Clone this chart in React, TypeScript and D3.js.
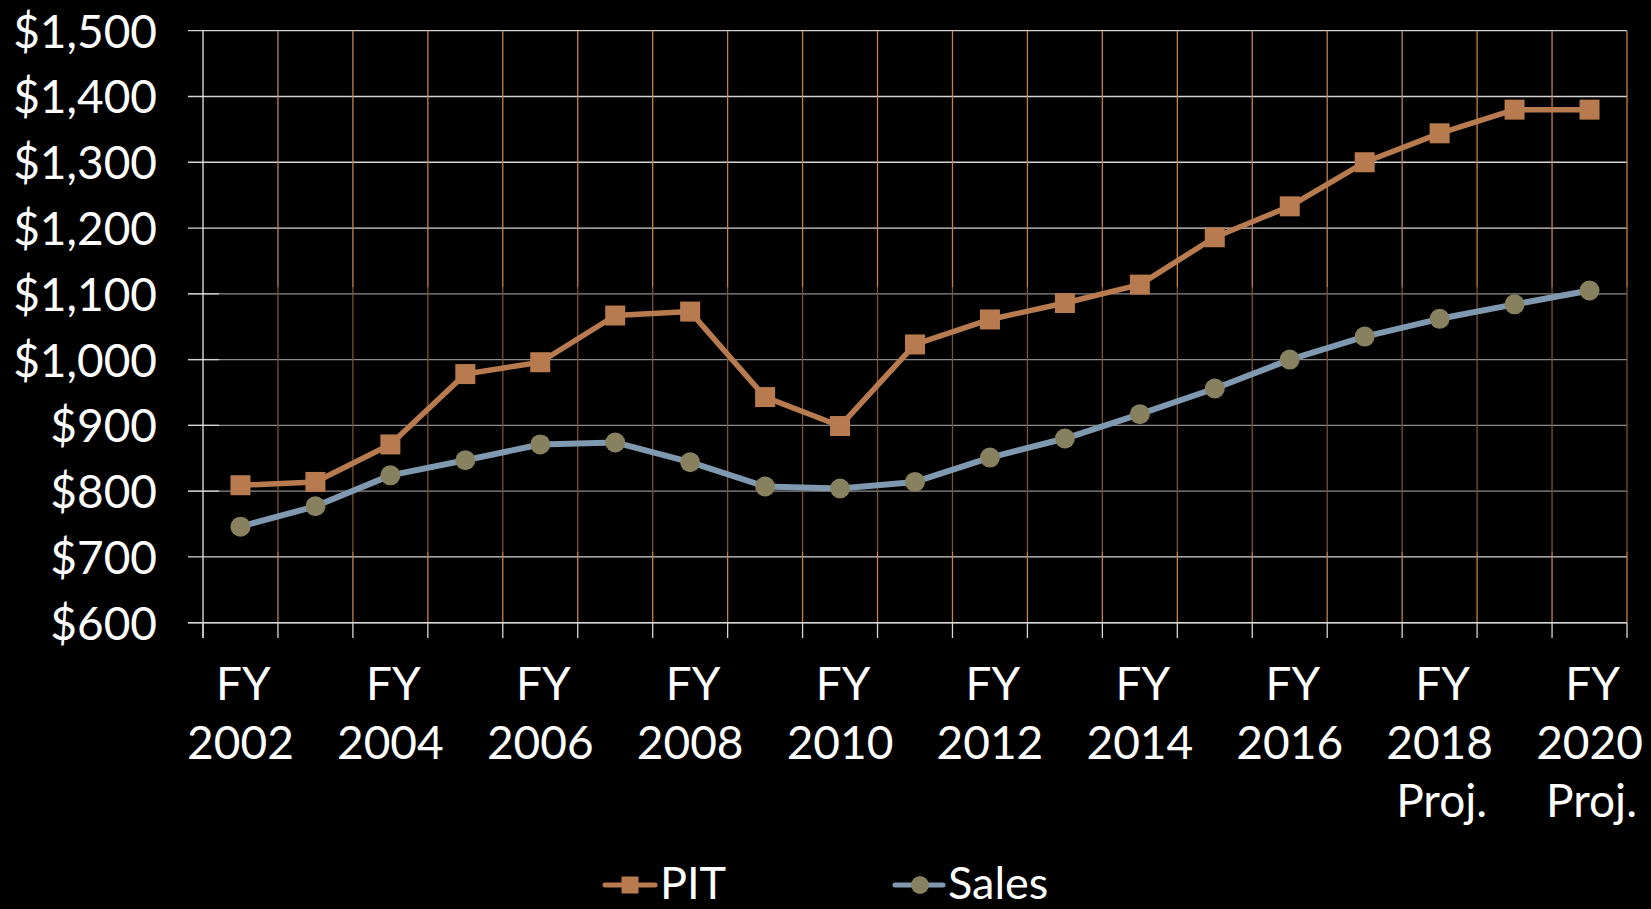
import React, { useEffect } from "react";
import * as d3 from "d3";

const years = [2002, 2003, 2004, 2005, 2006, 2007, 2008, 2009, 2010, 2011, 2012, 2013, 2014, 2015, 2016, 2017, 2018, 2019, 2020];
const pitValues = [809, 814, 871, 978, 996, 1067, 1073, 943, 899, 1023, 1061, 1086, 1114, 1186, 1233, 1300, 1344, 1380, 1380];
const salesValues = [746, 777, 824, 847, 871, 874, 844, 807, 804, 814, 851, 880, 917, 956, 1000, 1035, 1062, 1084, 1105];
const yTicks = [600, 700, 800, 900, 1000, 1100, 1200, 1300, 1400, 1500];
const projectedYears = [2018, 2020];

const W = 1651;
const H = 909;
const left = 203;
const right = 1627;
const top = 30.7;
const bottom = 622.7;

const PIT_COLOR = "#b87b4f";
const SALES_LINE = "#7f99b0";
const SALES_MARK = "#888160";
const VGRID = "#c3824c";
const VGRID_DARK = "#7a5234";
const HGRID = "#d4d4d4";
const HGRID_DARK = "#8c8c8c";
const FONT = "Lato, 'Open Sans', sans-serif";

export default function App() {
  useEffect(() => {
    document.body.style.margin = "0";
    document.body.style.background = "#000";
  }, []);

  const x = d3.scaleBand<number>().domain(years).range([left, right]).padding(0);
  const y = d3.scaleLinear().domain([600, 1500]).range([bottom, top]);
  const cx = (yr: number) => (x(yr) as number) + x.bandwidth() / 2;

  const pitLine = d3.line<number>().x((_, i) => cx(years[i])).y((v) => y(v));
  const salesLine = d3.line<number>().x((_, i) => cx(years[i])).y((v) => y(v));

  const boundaries = years.map((yr) => x(yr) as number).concat([right]);
  const bandTop = 287;
  const bandBottom = 552;

  return (
    <svg width={W} height={H} style={{ display: "block", background: "#000" }} fontFamily={FONT}>
      <rect x={0} y={0} width={W} height={H} fill="#000" />
      {/* horizontal gridlines */}
      {yTicks.map((t) => {
        const yy = y(t);
        const dark = yy > bandTop && yy < bandBottom;
        return (
          <g key={"h" + t}>
            <line x1={188} x2={right} y1={yy} y2={yy} stroke={dark ? HGRID_DARK : HGRID} strokeWidth={1.3} />
            {dark && <line x1={188} x2={219} y1={yy} y2={yy} stroke={HGRID} strokeWidth={1.3} />}
          </g>
        );
      })}
      {/* vertical gridlines */}
      {boundaries.slice(1).map((bx, i) => (
        <g key={"v" + i}>
          <line x1={bx} x2={bx} y1={top} y2={bandTop} stroke={VGRID} strokeWidth={1.3} />
          <line x1={bx} x2={bx} y1={bandTop} y2={bandBottom} stroke={VGRID_DARK} strokeWidth={1.3} />
          <line x1={bx} x2={bx} y1={bandBottom} y2={bottom} stroke={VGRID} strokeWidth={1.3} />
        </g>
      ))}
      {/* axes */}
      <line x1={left} x2={left} y1={top} y2={638} stroke="#e8e8e8" strokeWidth={1.3} />
      <line x1={188} x2={right} y1={bottom} y2={bottom} stroke="#d8d8d8" strokeWidth={1.5} />
      {boundaries.map((bx, i) => (
        <line key={"t" + i} x1={bx} x2={bx} y1={bottom} y2={638} stroke="#d8d8d8" strokeWidth={1.3} />
      ))}
      {/* y tick labels */}
      {yTicks.map((t) => (
        <text key={"yl" + t} x={157} y={y(t) + 17} textAnchor="end" fill="#fff" fontSize={46}>
          {"$" + d3.format(",")(t)}
        </text>
      ))}
      {/* x tick labels */}
      {years.map((yr, i) =>
        i % 2 === 0 ? (
          <g key={"xl" + yr} fill="#fff" fontSize={46} textAnchor="middle">
            <text x={cx(yr) + 3} y={700}>FY</text>
            <text x={cx(yr)} y={759}>{yr}</text>
            {projectedYears.includes(yr) && <text x={cx(yr) + 2} y={817}>Proj.</text>}
          </g>
        ) : null
      )}
      {/* series */}
      <path d={salesLine(salesValues) || ""} fill="none" stroke={SALES_LINE} strokeWidth={6} strokeLinejoin="round" />
      {salesValues.map((v, i) => (
        <circle key={"sc" + i} cx={cx(years[i])} cy={y(v)} r={10} fill={SALES_MARK} />
      ))}
      <path d={pitLine(pitValues) || ""} fill="none" stroke={PIT_COLOR} strokeWidth={5.5} strokeLinejoin="round" />
      {pitValues.map((v, i) => (
        <rect key={"pr" + i} x={cx(years[i]) - 10} y={y(v) - 10} width={20} height={20} fill={PIT_COLOR} />
      ))}
      {/* legend */}
      <g>
        <line x1={605} x2={655} y1={885} y2={885} stroke={PIT_COLOR} strokeWidth={5} strokeLinecap="round" />
        <rect x={621.5} y={876.5} width={17} height={17} fill={PIT_COLOR} />
        <text x={660} y={899} fill="#fff" fontSize={45}>PIT</text>
        <line x1={895} x2={943} y1={885} y2={885} stroke={SALES_LINE} strokeWidth={5} strokeLinecap="round" />
        <circle cx={920} cy={885} r={9} fill={SALES_MARK} />
        <text x={948} y={899} fill="#fff" fontSize={45}>Sales</text>
      </g>
    </svg>
  );
}
